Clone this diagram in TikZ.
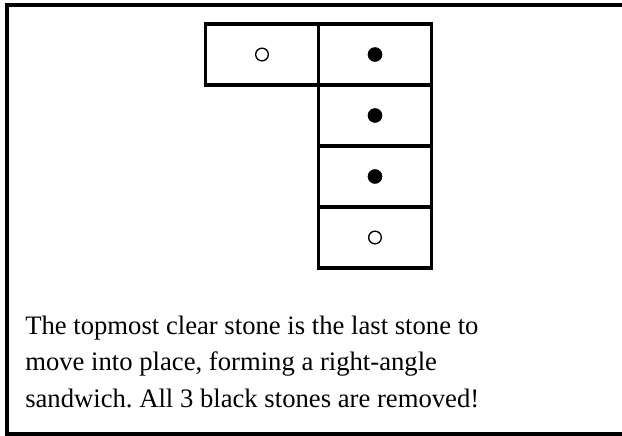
\documentclass[tikz,border=0pt]{standalone}
\usepackage{fontspec}
\setmainfont{Liberation Serif}
\usetikzlibrary{positioning}

\tikzstyle{cell} = [rectangle, draw=black, line width=2.6pt, minimum width=84.75pt, minimum height=45.75pt, inner sep=0pt, outer sep=0pt]
\tikzstyle{clear} = [circle, draw=black, line width=1pt, fill=white, minimum size=9.5pt, inner sep=0pt]
\tikzstyle{black} = [circle, fill=black, minimum size=11pt, inner sep=0pt]
\tikzstyle{caption} = [anchor=base west, align=left, inner sep=0pt, font=\fontsize{20}{27.3}\selectfont]

\begin{document}
\frenchspacing
\begin{tikzpicture}[x=0.75pt, y=-0.75pt]
\useasboundingbox (0,0) rectangle (622,436);

% outer frame (right side runs off the page)
\draw [line width=2.6pt] (622,5) -- (7,5) -- (7,434) -- (622,434);

% the stones
\node at (262,54.5) (left) [cell] {};
\node at (375,54.5) (top) [cell] {};
\node at (375,115.5) (row2) [cell] {};
\node at (375,176.5) (row3) [cell] {};
\node at (375,237.5) (row4) [cell] {};

\node at (left) [clear] {};
\node at (top) [black] {};
\node at (row2) [black] {};
\node at (row3) [black] {};
\node at (row4) [clear] {};

\node at (25,407) (text) [caption] {The topmost clear stone is the last stone to\\move into place, forming a right-angle\\sandwich. All 3 black stones are removed!};

\end{tikzpicture}
\end{document}
